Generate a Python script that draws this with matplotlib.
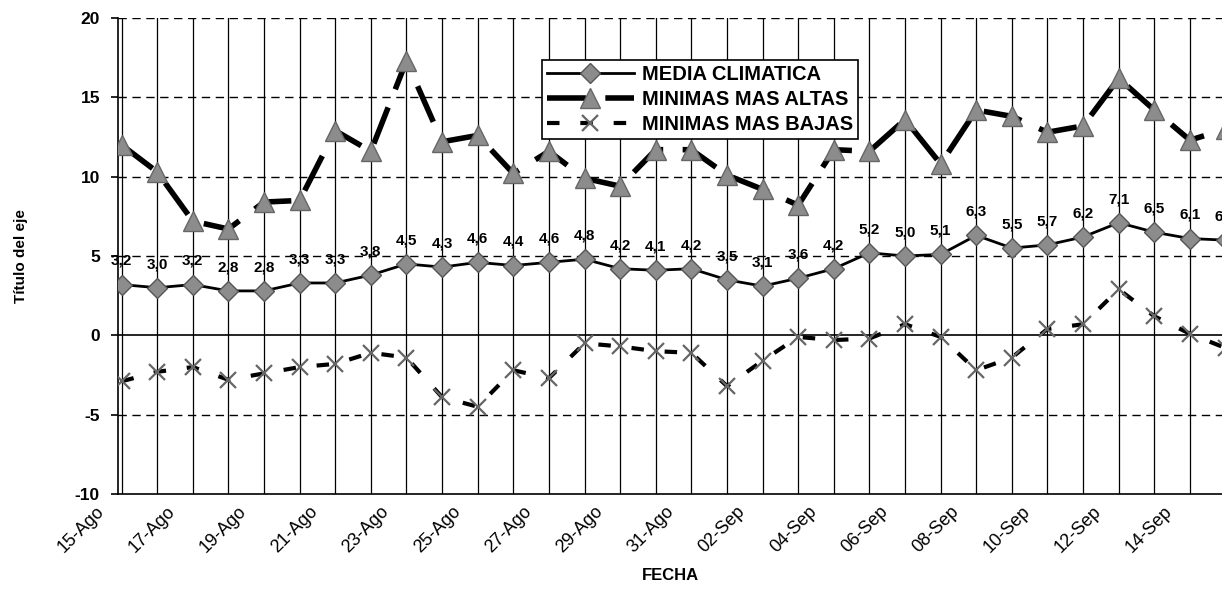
import matplotlib
matplotlib.use('Agg')
import matplotlib.pyplot as plt
import matplotlib.transforms as mtransforms
import numpy as np

plt.rcParams['font.family'] = ['Liberation Sans', 'DejaVu Sans']

# dias del periodo (15 ago - 15 sep)
fechas = ['15-Ago', '16-Ago', '17-Ago', '18-Ago', '19-Ago', '20-Ago', '21-Ago', '22-Ago',
          '23-Ago', '24-Ago', '25-Ago', '26-Ago', '27-Ago', '28-Ago', '29-Ago', '30-Ago',
          '31-Ago', '01-Sep', '02-Sep', '03-Sep', '04-Sep', '05-Sep', '06-Sep', '07-Sep',
          '08-Sep', '09-Sep', '10-Sep', '11-Sep', '12-Sep', '13-Sep', '14-Sep', '15-Sep']

media_climatica = [3.2, 3.0, 3.2, 2.8, 2.8, 3.3, 3.3, 3.8, 4.5, 4.3, 4.6, 4.4, 4.6, 4.8, 4.2, 4.1,
                   4.2, 3.5, 3.1, 3.6, 4.2, 5.2, 5.0, 5.1, 6.3, 5.5, 5.7, 6.2, 7.1, 6.5, 6.1, 6.0]

minimas_altas = [12.0, 10.3, 7.2, 6.7, 8.4, 8.5, 12.9, 11.6, 17.3, 12.2, 12.6, 10.2, 11.6, 9.9, 9.4, 11.7,
                 11.7, 10.1, 9.2, 8.2, 11.7, 11.6, 13.6, 10.8, 14.2, 13.8, 12.8, 13.2, 16.2, 14.2, 12.3, 13.0]

minimas_bajas = [-2.9, -2.3, -2.0, -2.8, -2.4, -2.0, -1.8, -1.1, -1.4, -3.9, -4.5, -2.2, -2.7, -0.5, -0.7, -1.0,
                 -1.1, -3.2, -1.6, -0.1, -0.3, -0.2, 0.7, -0.1, -2.2, -1.4, 0.4, 0.7, 2.9, 1.2, 0.1, -0.8]

x = np.arange(len(fechas))

fig = plt.figure(figsize=(12.22, 5.90), dpi=100)
ax = fig.add_axes([118 / 1222, 96 / 590, 1104 / 1222, 476 / 590])

# rejilla: verticales solidas en cada dia, horizontales discontinuas
ax.set_xticks(x, minor=True)
ax.set_xticks(x[::2])
ax.set_xticklabels([])
ax.grid(True, axis='x', which='both', color='black', linewidth=0.9)
for yv in [-5, 5, 10, 15, 20]:
    ax.axhline(yv, color='black', linewidth=1.0, linestyle=(0, (6, 4)), zorder=1)
ax.axhline(0, color='black', linewidth=1.2, zorder=1)

# etiquetas de fecha giradas, un poco a la izquierda de cada dia como en el original
shift = mtransforms.ScaledTranslation(-26 / 100, -9 / 100, fig.dpi_scale_trans)
for xi in x[::2]:
    ax.text(xi, 0, fechas[xi], transform=ax.get_xaxis_transform() + shift, rotation=45,
            ha='right', va='top', rotation_mode='anchor', fontsize=13)

gris = '#8c8c8c'
ax.plot(x, media_climatica, color='black', linewidth=2, marker='D', markersize=10,
        markerfacecolor=gris, markeredgecolor='#555555', label='MEDIA CLIMATICA', zorder=4)
ax.plot(x, minimas_altas, color='black', linewidth=4, linestyle=(0, (7, 3.5)), marker='^',
        markersize=15, markerfacecolor=gris, markeredgecolor='#666666', label='MINIMAS MAS ALTAS', zorder=3)
ax.plot(x, minimas_bajas, color='black', linewidth=3, linestyle=(0, (3, 5)), marker='x',
        markersize=12, markeredgewidth=1.6, markeredgecolor='#666666', label='MINIMAS MAS BAJAS', zorder=3)

for xi, v in zip(x, media_climatica):
    ax.annotate(f'{v:.1f}'.replace('.', ','), (xi, v), xytext=(0, 17), textcoords='offset points',
                ha='center', va='center', fontsize=11, fontweight='bold', zorder=5,
                annotation_clip=False)

ax.set_xlim(-0.1, 30.9)
ax.set_ylim(-10, 20)
ax.set_yticks([-10, -5, 0, 5, 10, 15, 20])
ax.set_yticklabels(['-10', '-5', '0', '5', '10', '15', '20'], fontsize=12.5, fontweight='bold')
ax.tick_params(axis='x', which='both', length=0)
ax.tick_params(axis='y', length=5, width=1.2, pad=8)

ax.spines['right'].set_visible(False)
ax.spines['top'].set_visible(False)
ax.spines['left'].set_linewidth(1.2)
ax.spines['bottom'].set_linewidth(1.2)

fig.text(670 / 1222, 1 - 576 / 590, 'FECHA', ha='center', va='center', fontsize=12, fontweight='bold')
ax.set_ylabel('Título del eje', fontsize=11, fontweight='bold', labelpad=34)

leg = ax.legend(loc='upper left', bbox_to_anchor=(0.384, 0.912), borderaxespad=0,
                prop={'weight': 'bold', 'size': 14.5}, handlelength=4.3, handletextpad=0.4,
                frameon=True, fancybox=False, edgecolor='black', framealpha=1,
                borderpad=0.25, labelspacing=0.3)
leg.get_frame().set_linewidth(1.2)

fig.savefig('out.png', dpi=100)
